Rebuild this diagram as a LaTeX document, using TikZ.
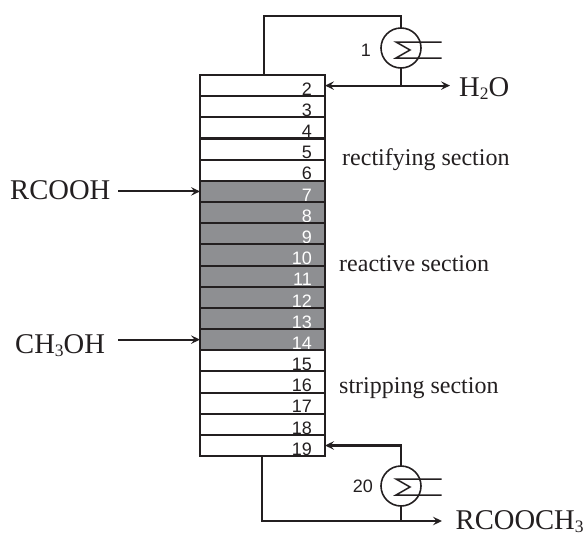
\documentclass[tikz,border=0pt]{standalone}
\usepackage{fontspec}
\setmainfont{Liberation Serif}
\newfontfamily\numfont{Liberation Sans}
\usetikzlibrary{arrows.meta,calc}
\definecolor{ink}{HTML}{231F20}
\definecolor{tray}{HTML}{8E8F92}
\newcommand\lowidx[1]{\raisebox{-3pt}{\fontsize{17.5}{17.5}\selectfont #1}}
\newcommand\lowidxb[1]{\raisebox{-2.5pt}{\fontsize{17.5}{17.5}\selectfont #1}}
\tikzset{
  x=1pt,y=-1pt,
  stagebox/.style={draw=ink,rectangle,minimum width=125pt,minimum height=21.17pt,inner sep=0pt,outer sep=0pt,line width=2.05pt},
  whitebox/.style={stagebox,fill=white},
  graybox/.style={stagebox,fill=tray},
  numtxt/.style={font=\numfont\fontsize{18}{18}\selectfont,anchor=base east,inner sep=0pt,text=ink},
  numwhite/.style={numtxt,text=white},
  bigtxt/.style={font=\fontsize{28.6}{28.6}\selectfont,anchor=base west,inner sep=0pt,text=ink},
  sectxt/.style={font=\fontsize{24}{24}\selectfont,anchor=base west,inner sep=0pt,text=ink},
  exch/.style={draw=ink,circle,minimum size=40pt,inner sep=0pt,outer sep=0pt,line width=1.6pt},
  pipe/.style={draw=ink,line width=1.9pt},
  flow/.style={pipe,-{Stealth[length=9pt,width=8.5pt,inset=3.5pt]},line width=2.1pt},
  flowboth/.style={pipe,{Stealth[length=9pt,width=8.5pt,inset=3.5pt]}-{Stealth[length=9pt,width=8.5pt,inset=3.5pt]},line width=2.1pt},
  coil/.style={pipe,line width=1.5pt},
}
\begin{document}
\begin{tikzpicture}
\useasboundingbox (0,0) rectangle (587,536);
\foreach \n in {2,...,19}{
  \pgfmathsetmacro{\yc}{75+(\n-2)*21.17+10.58}
  \pgfmathsetmacro{\yb}{75+(\n-2)*21.17+20.3}
  \ifnum\n>6 \ifnum\n<15
    \node[graybox] (s\n) at (262.5,\yc) {};
    \node[numwhite] (n\n) at (312,\yb) {\n};
  \else
    \node[whitebox] (s\n) at (262.5,\yc) {};
    \node[numtxt] (n\n) at (312,\yb) {\n};
  \fi\else
    \node[whitebox] (s\n) at (262.5,\yc) {};
    \node[numtxt] (n\n) at (312,\yb) {\n};
  \fi
}
% exchangers
\node[exch] (cond) at (401,48) {};
\node[exch] (reb) at (401,486) {};
\node[numtxt] (n1) at (371,56) {1};
\node[numtxt] (n20) at (373,492) {20};
% coils
\coordinate (ca) at (441.7,42); \coordinate (cb) at (396,42); \coordinate (cc) at (410,50);
\coordinate (cd) at (396,58); \coordinate (ce) at (441.7,58);
\draw[coil] (ca) -- (cb) -- (cc) -- (cd) -- (ce);
\coordinate (ra) at (441.7,479); \coordinate (rb) at (396,479); \coordinate (rc) at (410,487);
\coordinate (rd) at (396,495); \coordinate (re) at (441.7,495);
\draw[coil] (ra) -- (rb) -- (rc) -- (rd) -- (re);
% text
\node[bigtxt] (tacid) at (10,199) {RCOOH};
\node[bigtxt] (tmeoh) at (15,353) {CH\lowidx{3}OH};
\node[bigtxt] (twater) at (459,96) {H\lowidx{2}O};
\node[bigtxt] (tester) at (455.5,529.5) {RCOOCH\lowidxb{3}};
\node[sectxt] (t1) at (342,165) {rectifying section};
\node[sectxt] (t2) at (339,271) {reactive section};
\node[sectxt] (t3) at (339,393) {stripping section};
% connector ends
\coordinate (top) at (264,75);
\coordinate (topa) at (264,16);
\coordinate (topb) at (401,16);
\coordinate (wend) at (450,0 |- s2.east);
\coordinate (wj) at (401,0 |- s2.east);
\coordinate (acid) at (118,0 |- s7.west);
\coordinate (meoh) at (118,0 |- s14.west);
\coordinate (bot) at (262,456);
\coordinate (botb) at (262,521);
\coordinate (pj) at (401,521);
\coordinate (pend) at (442,521);
\coordinate (rup) at (401,0 |- s19.east);
\draw[pipe] (top) -- (topa) -- (topb) -- (cond.north);
\draw[pipe] (cond.south) -- (wj);
\draw[flowboth] (s2.east) -- (wend);
\draw[flow] (acid) -- (s7.west);
\draw[flow] (meoh) -- (s14.west);
\draw[flow] (reb.north) -- (rup) -- (s19.east);
\draw[pipe] (reb.south) -- (pj);
\draw[flow] (bot) -- (botb) -- (pend);
\end{tikzpicture}
\end{document}
